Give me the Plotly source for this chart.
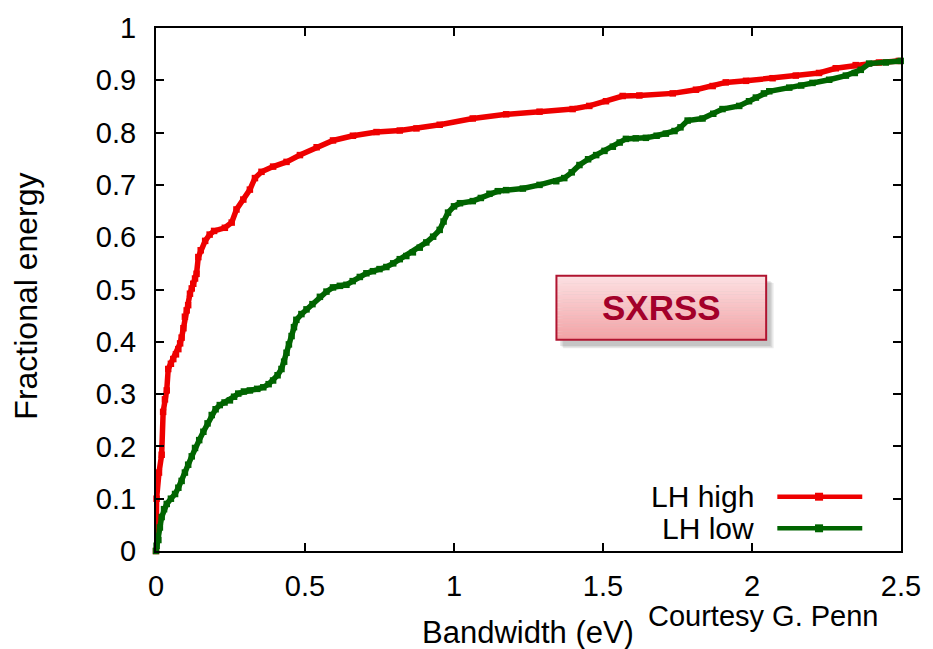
import plotly.graph_objects as go

# Bandwidth (eV) and fractional energy for the two laser-heater settings
lh_high_x = [0, 0.002, 0.010, 0.019, 0.024, 0.030, 0.036, 0.041, 0.050, 0.058, 0.067, 0.075,
             0.081, 0.086, 0.092, 0.097, 0.103, 0.108, 0.114, 0.120, 0.125, 0.131, 0.136,
             0.142, 0.150, 0.165, 0.180, 0.195, 0.231, 0.254, 0.270, 0.293, 0.315, 0.332,
             0.354, 0.393, 0.438, 0.483, 0.539, 0.594, 0.661, 0.740, 0.818, 0.874, 0.952,
             1.063, 1.175, 1.287, 1.398, 1.454, 1.510, 1.566, 1.622, 1.734, 1.812, 1.868,
             1.912, 1.980, 2.069, 2.147, 2.225, 2.281, 2.348, 2.426, 2.493]
lh_high_y = [0, 0.100, 0.150, 0.184, 0.266, 0.290, 0.307, 0.348, 0.358, 0.367, 0.376, 0.386,
             0.397, 0.408, 0.426, 0.448, 0.460, 0.470, 0.492, 0.502, 0.511, 0.521, 0.530,
             0.562, 0.575, 0.593, 0.605, 0.612, 0.618, 0.628, 0.653, 0.672, 0.691, 0.713,
             0.725, 0.735, 0.744, 0.757, 0.772, 0.785, 0.794, 0.801, 0.804, 0.808, 0.815,
             0.827, 0.835, 0.840, 0.845, 0.851, 0.860, 0.870, 0.871, 0.875, 0.882, 0.889,
             0.896, 0.899, 0.904, 0.909, 0.914, 0.923, 0.929, 0.934, 0.937]

lh_low_x = [0, 0.002, 0.008, 0.013, 0.019, 0.027, 0.036, 0.050, 0.064, 0.075, 0.086, 0.097,
            0.108, 0.120, 0.131, 0.145, 0.159, 0.173, 0.187, 0.200, 0.214, 0.230, 0.248,
            0.262, 0.276, 0.295, 0.315, 0.340, 0.360, 0.378, 0.393, 0.408, 0.421, 0.430,
            0.438, 0.446, 0.455, 0.463, 0.471, 0.488, 0.505, 0.525, 0.550, 0.572, 0.594,
            0.617, 0.639, 0.660, 0.684, 0.706, 0.728, 0.750, 0.773, 0.796, 0.818, 0.840,
            0.862, 0.885, 0.907, 0.930, 0.952, 0.965, 0.980, 1.000, 1.020, 1.063, 1.090,
            1.119, 1.147, 1.175, 1.231, 1.287, 1.343, 1.370, 1.395, 1.421, 1.450, 1.477,
            1.505, 1.533, 1.556, 1.577, 1.610, 1.644, 1.680, 1.711, 1.740, 1.760, 1.784,
            1.834, 1.870, 1.901, 1.957, 1.990, 2.013, 2.040, 2.058, 2.125, 2.165, 2.203,
            2.259, 2.315, 2.345, 2.365, 2.393, 2.449, 2.499]
lh_low_y = [0, 0.010, 0.021, 0.045, 0.065, 0.080, 0.090, 0.100, 0.109, 0.121, 0.134, 0.150,
            0.165, 0.181, 0.197, 0.212, 0.228, 0.244, 0.260, 0.271, 0.279, 0.284, 0.288,
            0.295, 0.301, 0.305, 0.307, 0.310, 0.313, 0.319, 0.326, 0.336, 0.348, 0.362,
            0.379, 0.395, 0.411, 0.428, 0.442, 0.453, 0.462, 0.472, 0.486, 0.496, 0.504,
            0.507, 0.509, 0.516, 0.524, 0.531, 0.535, 0.539, 0.543, 0.550, 0.558, 0.564,
            0.571, 0.580, 0.590, 0.601, 0.614, 0.630, 0.647, 0.659, 0.665, 0.669, 0.675,
            0.683, 0.688, 0.690, 0.693, 0.700, 0.707, 0.713, 0.724, 0.738, 0.749, 0.757,
            0.765, 0.773, 0.781, 0.788, 0.789, 0.790, 0.794, 0.798, 0.803, 0.810, 0.823,
            0.827, 0.836, 0.845, 0.851, 0.860, 0.867, 0.875, 0.879, 0.886, 0.890, 0.895,
            0.901, 0.909, 0.914, 0.920, 0.932, 0.934, 0.937]

x_ticks = [0, 0.5, 1, 1.5, 2, 2.5]
x_tick_text = ["0", "0.5", "1", "1.5", "2", "2.5"]
y_ticks = [0, 0.1, 0.2, 0.3, 0.4, 0.5, 0.6, 0.7, 0.8, 0.9, 1]
y_tick_text = ["0", "0.1", "0.2", "0.3", "0.4", "0.5", "0.6", "0.7", "0.8", "0.9", "1"]

series_names = ["LH high", "LH low"]
series_colors = ["#ee0000", "#006400"]

FONT = "Liberation Sans, Arial, sans-serif"

fig = go.Figure()
for xs, ys, name, color in [(lh_high_x, lh_high_y, series_names[0], series_colors[0]),
                            (lh_low_x, lh_low_y, series_names[1], series_colors[1])]:
    fig.add_trace(go.Scatter(
        x=xs, y=ys, name=name, mode="lines+markers",
        line=dict(color=color, width=5.5),
        marker=dict(symbol="square", size=6.5, color=color),
        cliponaxis=False, showlegend=False,
    ))

shapes = []
annotations = []

# Gnuplot-style key: label on the left, line sample with a point on the right
key_rows = [0.1038, 0.0434]
for name, color, ky in zip(series_names, series_colors, key_rows):
    annotations.append(dict(xref="paper", yref="paper", x=0.8056, y=ky, text=name,
                            showarrow=False, xanchor="right", yanchor="middle",
                            font=dict(family=FONT, size=30, color="black")))
    shapes.append(dict(type="line", xref="paper", yref="paper", x0=0.834, x1=0.948,
                       y0=ky, y1=ky, line=dict(color=color, width=4.5)))
    shapes.append(dict(type="rect", xref="paper", yref="paper",
                       x0=0.890 - 0.0054, x1=0.890 + 0.0054,
                       y0=ky - 0.0076, y1=ky + 0.0076,
                       fillcolor=color, line=dict(width=0)))

# SXRSS label box: soft drop shadow, vertical pink gradient, dark red frame
bx0, bx1, by0, by1 = 0.5375, 0.819, 0.4038, 0.5264
for i, op in enumerate([0.10, 0.10, 0.12]):
    d = 0.002 * (3 - i)
    shapes.append(dict(type="rect", xref="paper", yref="paper",
                       x0=bx0 + 0.003 + d, x1=bx1 + 0.004 + d,
                       y0=by0 - 0.010 - d, y1=by1 - 0.008 - d,
                       fillcolor=f"rgba(60,60,60,{op})", line=dict(width=0), layer="above"))
n_bands = 24
top_rgb = (252, 225, 227)
bot_rgb = (243, 162, 165)
for i in range(n_bands):
    t = (i + 0.5) / n_bands
    r, g, b = [round(a + (c - a) * t) for a, c in zip(top_rgb, bot_rgb)]
    ya = by1 - (by1 - by0) * i / n_bands
    yb = by1 - (by1 - by0) * (i + 1) / n_bands
    shapes.append(dict(type="rect", xref="paper", yref="paper", x0=bx0, x1=bx1,
                       y0=yb, y1=ya + 0.0005, fillcolor=f"rgb({r},{g},{b})",
                       line=dict(width=0), layer="above"))
shapes.append(dict(type="rect", xref="paper", yref="paper", x0=bx0, x1=bx1, y0=by0, y1=by1,
                   fillcolor="rgba(0,0,0,0)", line=dict(color="#b01430", width=2),
                   layer="above"))
annotations.append(dict(xref="paper", yref="paper", x=(bx0 + bx1) / 2, y=(by0 + by1) / 2,
                        text="<b>SXRSS</b>", showarrow=False, xanchor="center",
                        yanchor="middle",
                        font=dict(family=FONT, size=35, color="#a3002a")))

# Axis titles and credit line
annotations.append(dict(xref="paper", yref="paper", x=0.4987, y=-0.155,
                        text="Bandwidth (eV)", showarrow=False, xanchor="center",
                        yanchor="middle", font=dict(family=FONT, size=31, color="black")))
annotations.append(dict(xref="paper", yref="paper", x=-0.1740, y=0.487,
                        text="Fractional energy", showarrow=False, textangle=-90,
                        xanchor="center", yanchor="middle",
                        font=dict(family=FONT, size=32, color="black")))
annotations.append(dict(xref="paper", yref="paper", x=0.816, y=-0.124,
                        text="Courtesy G. Penn", showarrow=False, xanchor="center",
                        yanchor="middle", font=dict(family=FONT, size=29, color="black")))

axis_common = dict(showline=True, linecolor="black", linewidth=2, mirror="allticks",
                   ticks="inside", ticklen=8, tickwidth=2, tickcolor="black",
                   showgrid=False, zeroline=False,
                   tickfont=dict(family=FONT, size=29, color="black"))

fig.update_layout(
    width=933, height=649,
    margin=dict(l=156, r=31, t=21, b=98),
    paper_bgcolor="white", plot_bgcolor="white",
    xaxis=dict(range=[0, 2.5], tickmode="array", tickvals=x_ticks, ticktext=x_tick_text,
               ticklabelstandoff=8, **axis_common),
    yaxis=dict(range=[0, 1], tickmode="array", tickvals=y_ticks, ticktext=y_tick_text,
               ticklabelstandoff=12, **axis_common),
    shapes=shapes, annotations=annotations, showlegend=False,
)

fig.write_html("out.html")
